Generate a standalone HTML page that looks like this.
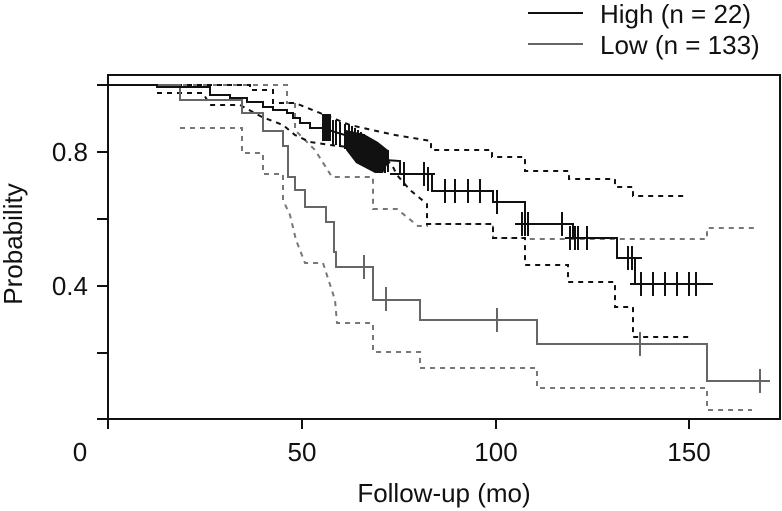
<!DOCTYPE html>
<html><head><meta charset="utf-8"><style>
html,body{margin:0;padding:0;background:#fff;}
svg{display:block;font-family:"Liberation Sans",Arial,sans-serif;}
</style></head><body>
<svg width="782" height="511" viewBox="0 0 782 511" xmlns="http://www.w3.org/2000/svg">
<line x1="528" y1="13" x2="583" y2="13" stroke="#111" stroke-width="2"/>
<line x1="528" y1="44" x2="583" y2="44" stroke="#666" stroke-width="2"/>
<text x="600" y="23" font-size="26" fill="#111">High (n = 22)</text>
<text x="600" y="54" font-size="26" fill="#111">Low (n = 133)</text>
<rect x="108" y="75" width="672" height="344" fill="none" stroke="#111" stroke-width="2"/>
<g stroke="#111" stroke-width="2">
<line x1="97" y1="85" x2="108" y2="85"/><line x1="97" y1="152" x2="108" y2="152"/>
<line x1="97" y1="219" x2="108" y2="219"/><line x1="97" y1="286" x2="108" y2="286"/>
<line x1="97" y1="353" x2="108" y2="353"/><line x1="97" y1="419" x2="108" y2="419"/>
<line x1="108" y1="419" x2="108" y2="429"/><line x1="302" y1="419" x2="302" y2="429"/>
<line x1="496" y1="419" x2="496" y2="429"/><line x1="689" y1="419" x2="689" y2="429"/>
</g>
<g font-size="26" fill="#111">
<text x="88" y="161" text-anchor="end">0.8</text>
<text x="88" y="295" text-anchor="end">0.4</text>
<text x="80" y="461" text-anchor="middle">0</text>
<text x="302" y="461" text-anchor="middle">50</text>
<text x="496" y="461" text-anchor="middle">100</text>
<text x="689" y="461" text-anchor="middle">150</text>
<text x="444" y="502" text-anchor="middle">Follow-up (mo)</text>
<text transform="translate(22,244) rotate(-90)" text-anchor="middle">Probability</text>
</g>
<g fill="none" stroke="#777" stroke-width="2" stroke-dasharray="5,5">
<polyline points="183,85 287,85 287,103 295,103 295,130 305,140 315,150 332,177 373,177 373,209 397,209 418,226 427,226 427,224 493,224 493,238 525,238 525,239 707,239 707,228 757,228"/>
<polyline points="180,128 242,128 242,153 263,153 263,174 283,174 283,200 290,215 296,240 305,263 323,263 335,300 337,323 373,323 373,352 420,352 420,368 537,368 537,388 707,388 707,410 752,410"/>
</g>
<g fill="none" stroke="#111" stroke-width="2" stroke-dasharray="5,5">
<polyline points="157,85 250,85 250,90 273,90 273,103 295,103 320,113 350,125 372,130 395,135 431,141 431,150 492,150 492,157 525,157 525,171 569,171 569,179 615,179 615,187 633,187 633,196 688,196"/>
<polyline points="157,93 203,93 210,105 240,105 262,117 283,125 295,135 310,142 330,145 375,150 392,165 397,175 410,190 427,204 427,224 493,224 493,238 525,238 525,265 568,265 568,282 615,282 615,307 633,307 633,337 690,337"/>
</g>
<g fill="none" stroke="#666" stroke-width="2">
<polyline points="108,85 180,85 180,100 242,100 242,113 263,113 263,131 283,131 283,146 288,146 288,177 295,177 295,190 305,190 305,207 326,207 326,222 334,222 334,252 336,252 336,267 373,267 373,300 420,300 420,320 537,320 537,344 707,344 707,381 770,381"/>
<path d="M364,255v24M386,287v24M497,308v24M640,332v24M760,369v24M354,267h20M376,300h20M487,320h20M630,344h20M750,381h20"/>
</g>
<g fill="none" stroke="#111" stroke-width="2">
<polyline points="108,85 157,85 157,87 210,87 210,95 230,95 230,98 247,98 247,102 263,102 263,107 273,107 273,110 287,110 287,113 293,113 293,118 300,118 300,123 310,123 310,128 322,128 345,135 365,145 385,160 400,161 400,174 432,174 432,191 493,191 493,202 525,202 525,224 573,224 573,238 617,238 617,258 635,258 635,284 713,284"/>
<path d="M333,120v25M336,120v25M340,122v25M404,162v24M424,162v24M428,167v24M445,179v24M455,179v24M468,179v24M480,179v24M497,190v24M522,212v24M525,212v24M528,212v24M562,212v24M570,226v24M575,226v24M578,226v24M587,226v24M628,246v24M632,246v24M641,272v24M653,272v24M665,272v24M677,272v24M689,272v24M696,272v24M390,174h22M415,174h20M440,191h20M515,224h20M565,238h22M622,258h20M630,284h20"/>
<path d="M345,124v25M349,125v25M352,126v25M355,128v25M358,130v25M361,132v25M364,134v25M367,136v25M370,138v25M373,140v25M376,142v25M379,145v25M382,148v24M385,150v23M388,150v22"/>
</g>
<rect x="322" y="114" width="9" height="27" fill="#111"/>
<polygon points="346,130 364,134 378,142 388,150 388,163 383,173 375,173 356,163 346,150" fill="#111"/>
</svg>
</body></html>
